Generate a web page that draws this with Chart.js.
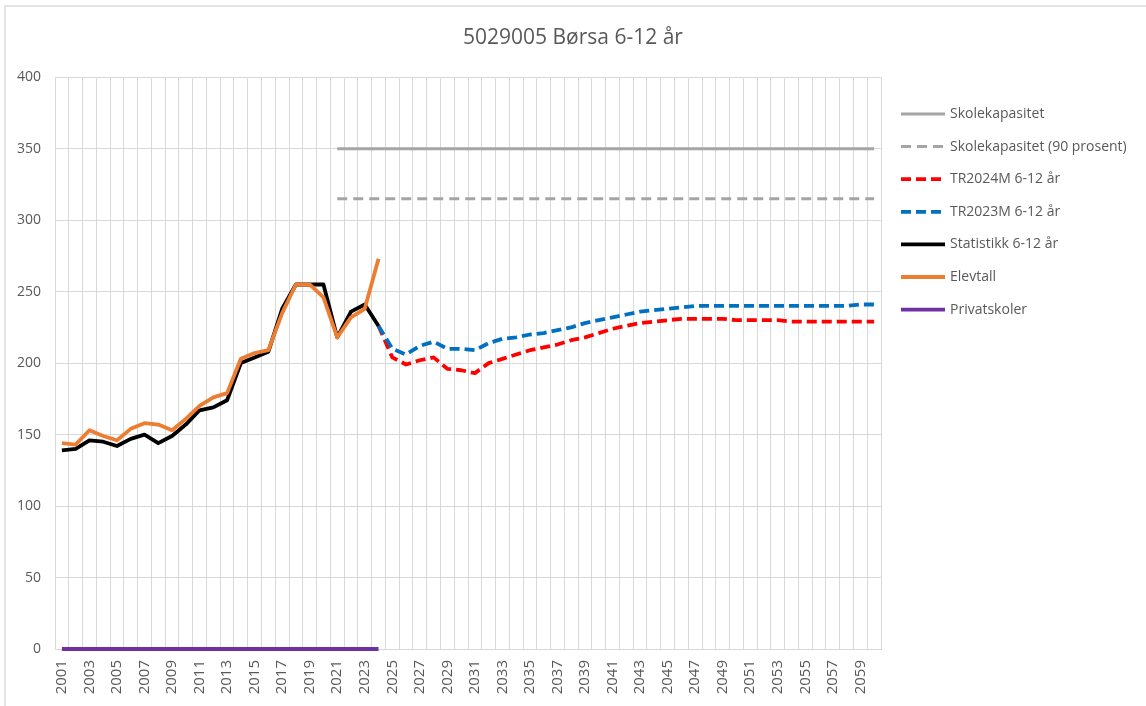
<!DOCTYPE html>
<html>
<head>
<meta charset="utf-8">
<title>5029005 Børsa 6-12 år</title>
<script src="https://cdn.jsdelivr.net/npm/chart.js@4"></script>
<style>
html,body{margin:0;padding:0;background:#fff;}
#wrap{width:1146px;height:706px;}
</style>
</head>
<body>
<div id="wrap"><canvas id="chart" width="1146" height="706"></canvas></div>
<script>
//kategorier
var years=["2001","2002","2003","2004","2005","2006","2007","2008","2009","2010",
    "2011","2012","2013","2014","2015","2016","2017","2018","2019","2020",
    "2021","2022","2023","2024","2025","2026","2027","2028","2029","2030",
    "2031","2032","2033","2034","2035","2036","2037","2038","2039","2040",
    "2041","2042","2043","2044","2045","2046","2047","2048","2049","2050",
    "2051","2052","2053","2054","2055","2056","2057","2058","2059","2060"];

//2001-2024
var statistikk=[139,140,146,145,142,147,150,144,149,157,167,169,174,200,204,208,238,255,255,255,218,236,241,226];
var elevtall=[144,143,153,149,146,154,158,157,153,161,170,176,179,203,207,209,235,255,255,246,218,232,238,273];
var privatskoler=[0,0,0,0,0,0,0,0,0,0,0,0,0,0,0,0,0,0,0,0,0,0,0,0];

//2024-2060
var tr2024m=[226,204,199,202,204,196,195,193,200,203,206,209,211,213,216,218,221,224,226,228,229,230,231,231,231,231,230,230,230,230,229,229,229,229,229,229,229];
var tr2023m=[226,210,206,212,215,210,210,209,214,217,218,220,221,223,225,228,230,232,234,236,237,238,239,240,240,240,240,240,240,240,240,240,240,240,240,241,241];

//2021-2060
var kapasitet=[350,350,350,350,350,350,350,350,350,350,350,350,350,350,350,350,350,350,350,350,
    350,350,350,350,350,350,350,350,350,350,350,350,350,350,350,350,350,350,350,350];
var kapasitet90=[315,315,315,315,315,315,315,315,315,315,315,315,315,315,315,315,315,315,315,315,
    315,315,315,315,315,315,315,315,315,315,315,315,315,315,315,315,315,315,315,315];

var yTicks=[0,50,100,150,200,250,300,350,400];

var textColor="#595959";
var gridColor="#d9d9d9";

//legg verdiene på riktig år
function pad(values,startYear){
    var out=[];
    var start=years.indexOf(startYear);
    for(var i=0;i<years.length;i++){
        var j=i-start;
        out.push(j>=0&&j<values.length?values[j]:null);
    }
    return out;
}

function line(label,data,color,width,dash,order){
    return {
        label:label,
        data:data,
        borderColor:color,
        backgroundColor:color,
        borderWidth:width,
        borderDash:dash,
        borderJoinStyle:"round",
        pointRadius:0,
        pointHoverRadius:0,
        tension:0,
        fill:false,
        spanGaps:false,
        clip:false,
        order:order
    };
}

//ramme rundt hele figuren
var framePlugin={
    id:"frame",
    beforeDraw:function(chart){
        var ctx=chart.ctx;
        ctx.save();
        ctx.fillStyle="#fff";
        ctx.fillRect(0,0,chart.width,chart.height);
        ctx.strokeStyle="#e3e3e3";
        ctx.lineWidth=2;
        ctx.strokeRect(5,6,chart.width+20,chart.height+20);
        ctx.restore();
    }
};

//forklaring til høyre
var legendPlugin={
    id:"sideLegend",
    afterDraw:function(chart){
        var ctx=chart.ctx;
        var sets=chart.data.datasets;
        var x0=chart.chartArea.right+20;
        ctx.save();
        for(var i=0;i<sets.length;i++){
            var y=114+i*32.6;
            ctx.beginPath();
            ctx.setLineDash(sets[i].borderDash||[]);
            ctx.lineWidth=sets[i].borderWidth;
            ctx.strokeStyle=sets[i].borderColor;
            ctx.moveTo(x0,y);
            ctx.lineTo(x0+44,y);
            ctx.stroke();
            ctx.setLineDash([]);
            ctx.fillStyle=textColor;
            ctx.font="14px 'Open Sans'";
            ctx.textBaseline="middle";
            ctx.textAlign="left";
            ctx.fillText(sets[i].label,x0+49,y);
        }
        ctx.restore();
    }
};

Chart.defaults.font.family="'Open Sans', sans-serif";

var chart=new Chart(document.getElementById("chart"),{
    type:"line",
    data:{
        labels:years,
        datasets:[
            line("Skolekapasitet",pad(kapasitet,"2021"),"#a5a5a5",3,[],7),
            line("Skolekapasitet (90 prosent)",pad(kapasitet90,"2021"),"#a5a5a5",3,[10,6],6),
            line("TR2024M 6-12 år",pad(tr2024m,"2024"),"#ff0000",3.8,[10,5],5),
            line("TR2023M 6-12 år",pad(tr2023m,"2024"),"#0070c0",3.8,[10,5],4),
            line("Statistikk 6-12 år",pad(statistikk,"2001"),"#000000",3.8,[],3),
            line("Elevtall",pad(elevtall,"2001"),"#ed7d31",3.8,[],2),
            line("Privatskoler",pad(privatskoler,"2001"),"#7030a0",3.8,[],1)
        ]
    },
    options:{
        responsive:false,
        animation:false,
        devicePixelRatio:1,
        layout:{padding:0},
        plugins:{
            legend:{display:false},
            tooltip:{enabled:false},
            title:{
                display:true,
                text:"5029005 Børsa 6-12 år",
                color:textColor,
                font:{size:21,weight:"normal"},
                padding:{top:25,bottom:27}
            }
        },
        scales:{
            x:{
                type:"category",
                offset:true,
                grid:{color:gridColor,offset:true,drawTicks:false},
                border:{color:gridColor},
                ticks:{
                    autoSkip:false,
                    maxRotation:90,
                    minRotation:90,
                    padding:11,
                    color:textColor,
                    font:{size:15},
                    callback:function(v,i){
                        return i%2===0?years[i]:"";
                    }
                },
                afterFit:function(s){s.height=57;}
            },
            y:{
                min:0,
                max:400,
                afterBuildTicks:function(s){
                    s.ticks=yTicks.map(function(v){return {value:v};});
                },
                grid:{color:gridColor,drawTicks:false},
                border:{color:gridColor},
                ticks:{padding:14,color:textColor,font:{size:14}},
                afterFit:function(s){s.width=55;}
            },
            side:{
                position:"right",
                display:true,
                grid:{display:false},
                border:{display:false},
                ticks:{display:false},
                afterFit:function(s){s.width=265;}
            }
        }
    },
    plugins:[framePlugin,legendPlugin]
});
</script>
</body>
</html>
